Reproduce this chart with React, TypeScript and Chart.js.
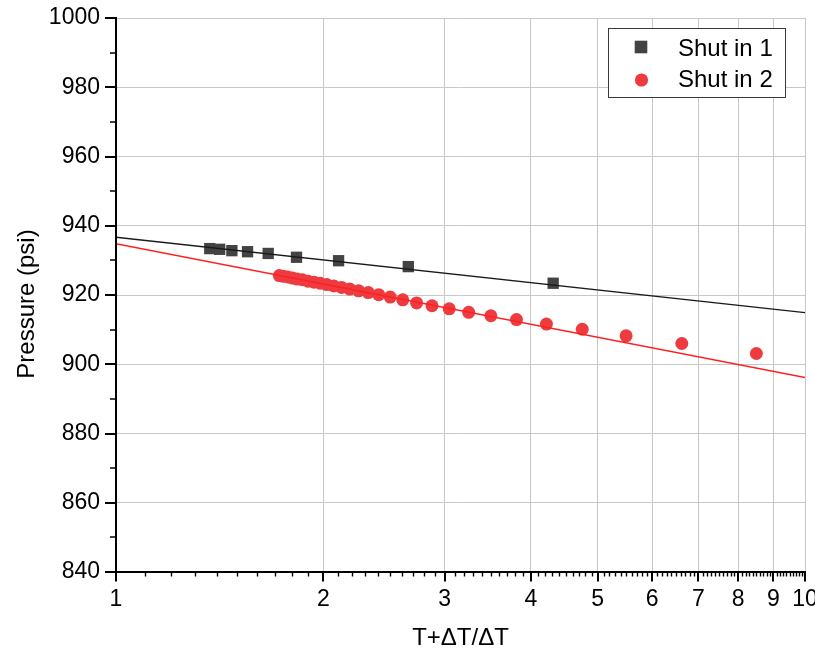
import React, { useEffect, useRef } from 'react';
import { Chart, registerables } from 'chart.js';

Chart.register(...registerables);

const FONT = "'Liberation Sans', Arial, Helvetica, sans-serif";

// ---- data ----
const seriesNames = ['Shut in 1', 'Shut in 2'];
const shut1X = [1.368, 1.414, 1.473, 1.552, 1.663, 1.828, 2.104, 2.656, 4.31];
const shut1Y = [933.4, 933.2, 932.8, 932.5, 932.0, 930.9, 929.9, 928.2, 923.4];
const shut2X = [
  1.726, 1.75, 1.776, 1.804, 1.833, 1.865, 1.9, 1.938, 1.978, 2.023, 2.071, 2.125, 2.184, 2.25, 2.324,
  2.406, 2.5, 2.607, 2.731, 2.875, 3.045, 3.25, 3.5, 3.813, 4.214, 4.75, 5.5, 6.625, 8.5,
];
const shut2Y = [
  925.6, 925.4, 925.2, 924.9, 924.6, 924.4, 924.0, 923.7, 923.4, 923.0, 922.6, 922.2, 921.7, 921.2, 920.7,
  920.1, 919.4, 918.6, 917.7, 916.9, 916.0, 915.0, 914.0, 912.9, 911.6, 910.1, 908.2, 906.0, 903.1,
];
const fit1X = [1, 10];
const fit1Y = [936.7, 914.9];
const fit2X = [1, 10];
const fit2Y = [934.8, 896.2];
const xTickValues = [1, 2, 3, 4, 5, 6, 7, 8, 9, 10];
const yTickValues = [840, 860, 880, 900, 920, 940, 960, 980, 1000];
const yMinorValues = [850, 870, 890, 910, 930, 950, 970, 990];
const xTitle = 'T+ΔT/ΔT';
const yTitle = 'Pressure (psi)';

const COLOR1 = '#434343';
const COLOR2 = '#EE3B40';

const toPts = (xs: number[], ys: number[]) => xs.map((x, i) => ({ x, y: ys[i] }));

const decor = {
  id: 'decor',
  afterDraw(chart: any) {
    const ctx = chart.ctx as CanvasRenderingContext2D;
    const xs = chart.scales.x;
    const ys = chart.scales.y;
    const { left, right, top, bottom } = chart.chartArea;
    const seg = (x1: number, y1: number, x2: number, y2: number) => {
      ctx.beginPath();
      ctx.moveTo(x1, y1);
      ctx.lineTo(x2, y2);
      ctx.stroke();
    };
    ctx.save();
    ctx.strokeStyle = '#000';
    // x minor ticks
    ctx.lineWidth = 1.4;
    for (let i = 1; i < 10; i++) {
      for (let j = 1; j < 10; j++) {
        const px = Math.round(xs.getPixelForValue(i + j / 10)) + 0.5;
        seg(px, bottom, px, bottom + 4.5);
      }
    }
    // x major ticks
    ctx.lineWidth = 2;
    xTickValues.forEach((v) => {
      const px = Math.round(xs.getPixelForValue(v));
      seg(px, bottom - 1, px, bottom + 9.5);
    });
    // y ticks
    yTickValues.forEach((v) => {
      const py = Math.round(ys.getPixelForValue(v));
      seg(left - 11, py, left + 1, py);
    });
    ctx.lineWidth = 1.5;
    yMinorValues.forEach((v) => {
      const py = Math.round(ys.getPixelForValue(v));
      seg(left - 6, py, left, py);
    });
    // axis lines
    ctx.lineWidth = 2;
    seg(left, top - 1, left, bottom + 1);
    seg(left - 1, bottom, right + 1, bottom);

    // titles
    ctx.fillStyle = '#000';
    ctx.font = `24px ${FONT}`;
    ctx.textAlign = 'center';
    ctx.textBaseline = 'alphabetic';
    ctx.fillText(xTitle, (left + right) / 2, 645);
    ctx.save();
    ctx.translate(33.5, 304);
    ctx.rotate(-Math.PI / 2);
    ctx.fillText(yTitle, 0, 0);
    ctx.restore();

    // legend
    const lx = 608.5, ly = 28.5, lw = 177, lh = 69;
    ctx.fillStyle = '#fff';
    ctx.fillRect(lx, ly, lw, lh);
    ctx.strokeStyle = '#3a3a3a';
    ctx.lineWidth = 1;
    ctx.strokeRect(lx, ly, lw, lh);
    ctx.fillStyle = COLOR1;
    ctx.fillRect(641 - 6.3, 47 - 6.3, 12.6, 12.6);
    ctx.fillStyle = COLOR2;
    ctx.beginPath();
    ctx.arc(641.5, 80, 6.6, 0, Math.PI * 2);
    ctx.fill();
    ctx.fillStyle = '#000';
    ctx.textAlign = 'left';
    ctx.fillText(seriesNames[0], 678, 56);
    ctx.fillText(seriesNames[1], 678, 87);
    ctx.restore();
  },
};

export default function App() {
  const ref = useRef<HTMLCanvasElement | null>(null);
  useEffect(() => {
    if (!ref.current) return;
    const chart = new Chart(ref.current, {
      type: 'scatter',
      data: {
        datasets: [
          {
            label: 'fit1',
            data: toPts(fit1X, fit1Y),
            showLine: true,
            borderColor: '#1a1a1a',
            borderWidth: 1.4,
            pointRadius: 0,
            order: 0,
          },
          {
            label: 'fit2',
            data: toPts(fit2X, fit2Y),
            showLine: true,
            borderColor: '#FF2020',
            borderWidth: 1.5,
            pointRadius: 0,
            order: 0,
          },
          {
            label: seriesNames[0],
            data: toPts(shut1X, shut1Y),
            pointStyle: 'rect',
            pointRadius: 8,
            pointBackgroundColor: COLOR1,
            pointBorderWidth: 0,
            borderColor: COLOR1,
            order: 1,
          },
          {
            label: seriesNames[1],
            data: toPts(shut2X, shut2Y),
            pointStyle: 'circle',
            pointRadius: 6.5,
            pointBackgroundColor: COLOR2,
            pointBorderWidth: 0,
            borderColor: COLOR2,
            order: 2,
          },
        ],
      },
      options: {
        responsive: false,
        animation: false,
        layout: { padding: { top: 18, right: 10, left: 0, bottom: 0 } },
        plugins: { legend: { display: false }, tooltip: { enabled: false } },
        scales: {
          x: {
            type: 'logarithmic',
            min: 1,
            max: 10,
            afterBuildTicks: (scale: any) => {
              scale.ticks = xTickValues.map((v) => ({ value: v }));
            },
            afterFit: (scale: any) => {
              scale.height = 83;
              scale.paddingLeft = 0;
              scale.paddingRight = 0;
            },
            ticks: {
              callback: (v: any) => String(v),
              font: { family: FONT, size: 23 },
              color: '#000',
              padding: 14,
              maxRotation: 0,
              autoSkip: false,
            },
            grid: { color: '#c8c8c8', lineWidth: 1, drawTicks: false },
            border: { display: false },
          },
          y: {
            type: 'linear',
            min: 840,
            max: 1000,
            afterBuildTicks: (scale: any) => {
              scale.ticks = yTickValues.map((v) => ({ value: v }));
            },
            afterFit: (scale: any) => {
              scale.width = 116;
              scale.paddingTop = 0;
              scale.paddingBottom = 0;
            },
            ticks: {
              callback: (v: any) => String(v),
              font: { family: FONT, size: 23 },
              color: '#000',
              padding: 16,
            },
            grid: { color: '#c8c8c8', lineWidth: 1, drawTicks: false },
            border: { display: false },
          },
        },
      },
      plugins: [decor],
    } as any);
    return () => chart.destroy();
  }, []);
  return (
    <div style={{ position: 'absolute', left: 0, top: 0, width: 815, height: 655, background: '#fff' }}>
      <canvas ref={ref} width={815} height={655} style={{ display: 'block' }} />
    </div>
  );
}
